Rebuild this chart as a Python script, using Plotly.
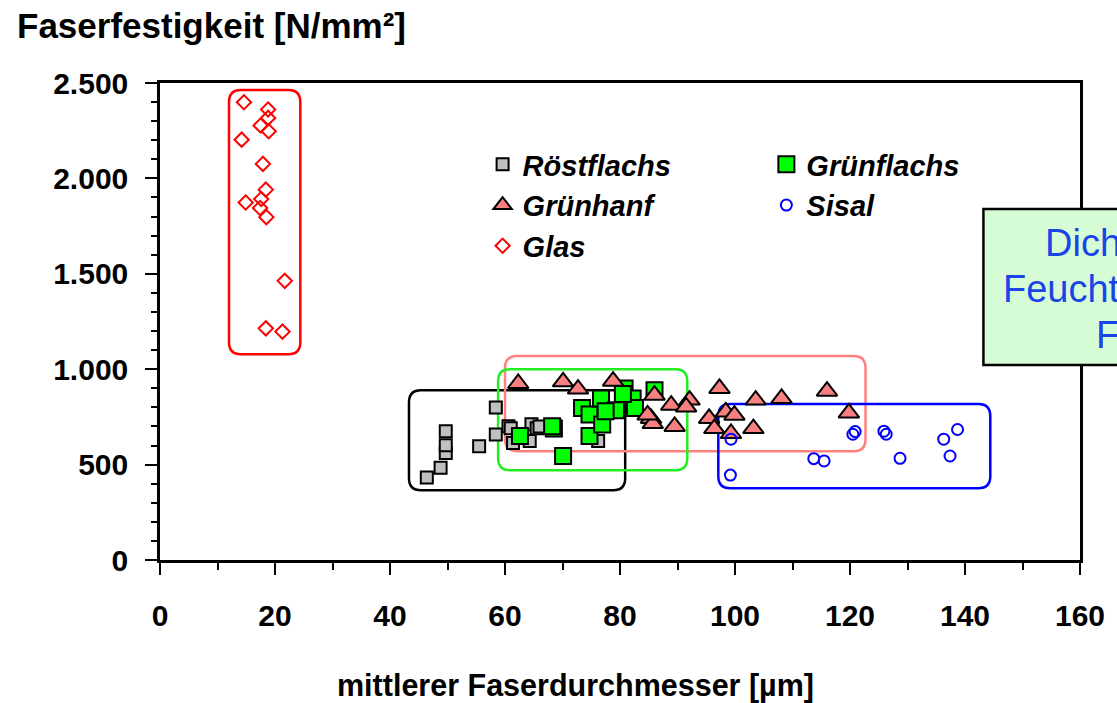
import plotly.graph_objects as go

# ---------------- data ----------------
roest_x = [46.4, 48.8, 49.7, 49.7, 49.7, 55.5, 58.4, 58.4, 60.6, 61.4, 64.6, 64.3, 76.2, 61.0, 65.5, 66.0]
roest_y = [432, 484, 561, 601, 675, 596, 799, 658, 701, 613, 712, 624, 624, 690, 690, 700]

gruenflachs_x = [62.6, 68.5, 68.2, 70.1, 73.4, 74.7, 74.7, 76.7, 76.9, 79.3, 80.8, 82.2, 82.6, 86.0, 80.5, 77.5]
gruenflachs_y = [650, 689, 701, 545, 797, 762, 650, 847, 710, 785, 899, 847, 797, 890, 870, 780]

gruenhanf_x = [62.3, 70.1, 72.7, 78.8, 86.0, 88.9, 85.4, 85.7, 89.5, 92.1, 91.5, 97.3, 95.5,
               96.4, 98.4, 99.9, 99.3, 103.2, 103.6, 108.1, 116.0, 119.8, 84.8]
gruenhanf_y = [925, 934, 896, 937, 864, 811, 742, 715, 700, 838, 802, 899, 742,
               689, 776, 759, 663, 689, 838, 847, 885, 771, 760]

sisal_x = [99.3, 99.2, 120.5, 120.9, 125.9, 126.3, 113.7, 115.5, 128.7, 136.3, 138.7, 137.4]
sisal_y = [633, 445, 659, 673, 675, 659, 531, 519, 533, 633, 684, 545]

glas_x = [14.6, 18.8, 18.8, 17.5, 18.9, 14.2, 17.9, 18.4, 14.9, 17.6, 17.4, 18.5, 21.7, 18.4, 21.3]
glas_y = [2399, 2361, 2317, 2277, 2247, 2203, 2076, 1941, 1874, 1892, 1845, 1797, 1463, 1214, 1197]

x_ticks = [0, 20, 40, 60, 80, 100, 120, 140, 160]
y_ticks = [0, 500, 1000, 1500, 2000, 2500]
y_ticktext = ["0", "500", "1.000", "1.500", "2.000", "2.500"]

# ---------------- layout geometry ----------------
W, H = 1117, 703
ML, MR, MT, MB = 160, 33, 83, 143
PW, PH = W - ML - MR, H - MT - MB
XR, YR = [0, 160], [0, 2500]
sx = PW / (XR[1] - XR[0])
sy = PH / (YR[1] - YR[0])

FONT = "Liberation Sans, Arial, sans-serif"


def px_to_paper_x(px):
    return (px - ML) / PW


def px_to_paper_y(py):
    return (H - MB - py) / PH


def rounded_box(x0, x1, y0, y1, r_px=12):
    rx, ry = r_px / sx, r_px / sy
    return (f"M{x0+rx},{y1} L{x1-rx},{y1} Q{x1},{y1} {x1},{y1-ry} "
            f"L{x1},{y0+ry} Q{x1},{y0} {x1-rx},{y0} L{x0+rx},{y0} "
            f"Q{x0},{y0} {x0},{y0+ry} L{x0},{y1-ry} Q{x0},{y1} {x0+rx},{y1} Z")


fig = go.Figure()

fig.add_trace(go.Scatter(x=roest_x, y=roest_y, mode="markers", name="Röstflachs", legend="legend",
                         marker=dict(symbol="square", size=12, color="#c0c0c0",
                                     line=dict(color="black", width=2))))
fig.add_trace(go.Scatter(x=gruenflachs_x, y=gruenflachs_y, mode="markers", name="Grünflachs", legend="legend2",
                         marker=dict(symbol="square", size=16, color="#00ff00",
                                     line=dict(color="black", width=2))))
fig.add_trace(go.Scatter(x=gruenhanf_x, y=gruenhanf_y, mode="markers", name="Grünhanf", legend="legend",
                         marker=dict(symbol="triangle-up", size=18, color="#f88080",
                                     line=dict(color="black", width=2))))
fig.add_trace(go.Scatter(x=sisal_x, y=sisal_y, mode="markers", name="Sisal", legend="legend2",
                         marker=dict(symbol="circle-open", size=11, color="#0000ff",
                                     line=dict(color="#0000ff", width=2))))
fig.add_trace(go.Scatter(x=glas_x, y=glas_y, mode="markers", name="Glas", legend="legend",
                         marker=dict(symbol="diamond-open", size=11, color="#ff0000",
                                     line=dict(color="#ff0000", width=2))))

shapes = [
    dict(type="path", xref="x", yref="y", path=rounded_box(12.0, 24.4, 1079, 2463),
         line=dict(color="#ff0000", width=2.5), layer="below"),
    dict(type="path", xref="x", yref="y", path=rounded_box(43.3, 80.9, 365, 890),
         line=dict(color="black", width=2.5), layer="below"),
    dict(type="path", xref="x", yref="y", path=rounded_box(60.0, 122.7, 570, 1069),
         line=dict(color="#ff8080", width=2.5), layer="below"),
    dict(type="path", xref="x", yref="y", path=rounded_box(58.8, 91.7, 470, 1000),
         line=dict(color="#22ee22", width=2.5), layer="below"),
    dict(type="path", xref="x", yref="y", path=rounded_box(97.1, 144.4, 376, 817),
         line=dict(color="#0000ff", width=2.5), layer="below"),
    # info box at the right (partly outside the figure)
    dict(type="rect", xref="paper", yref="paper",
         x0=px_to_paper_x(987), x1=px_to_paper_x(1300),
         y0=px_to_paper_y(365), y1=px_to_paper_y(209),
         fillcolor="rgb(214,252,214)", line=dict(color="black", width=2.5), layer="above"),
]

blue = "#1a44e8"
annotations = [
    dict(text="Faserfestigkeit [N/mm²]", xref="paper", yref="paper",
         x=px_to_paper_x(14), y=px_to_paper_y(25), xanchor="left", yanchor="middle",
         showarrow=False, font=dict(family=FONT, size=35, color="black", weight="bold")),
    dict(text="mittlerer Faserdurchmesser [µm]", xref="paper", yref="paper",
         x=px_to_paper_x(577), y=px_to_paper_y(685), xanchor="center", yanchor="middle",
         showarrow=False, font=dict(family=FONT, size=30.5, color="black", weight="bold")),
    dict(text="Dichte und", xref="paper", yref="paper",
         x=px_to_paper_x(1047), y=px_to_paper_y(243), xanchor="left", yanchor="middle",
         showarrow=False, font=dict(family=FONT, size=38, color=blue)),
    dict(text="Feuchtegehalt der", xref="paper", yref="paper",
         x=px_to_paper_x(1005), y=px_to_paper_y(289), xanchor="left", yanchor="middle",
         showarrow=False, font=dict(family=FONT, size=38, color=blue)),
    dict(text="Fasern", xref="paper", yref="paper",
         x=px_to_paper_x(1098), y=px_to_paper_y(335), xanchor="left", yanchor="middle",
         showarrow=False, font=dict(family=FONT, size=38, color=blue)),
]

legend_font = dict(family=FONT, size=29, color="black", weight="bold", style="italic")

fig.update_layout(
    width=W, height=H,
    margin=dict(l=ML, r=MR, t=MT, b=MB),
    paper_bgcolor="white", plot_bgcolor="white",
    shapes=shapes, annotations=annotations,
    legend=dict(x=px_to_paper_x(484), y=px_to_paper_y(139), xanchor="left", yanchor="top",
                bgcolor="rgba(0,0,0,0)", font=legend_font, itemsizing="trace",
                tracegroupgap=0),
    legend2=dict(x=px_to_paper_x(769), y=px_to_paper_y(139), xanchor="left", yanchor="top",
                 bgcolor="rgba(0,0,0,0)", font=legend_font, itemsizing="trace",
                 tracegroupgap=0),
    xaxis=dict(range=XR, tickvals=x_ticks, showgrid=False, zeroline=False,
               showline=True, linecolor="black", linewidth=2.5, mirror=True,
               ticks="outside", ticklen=12, tickwidth=2, tickcolor="black",
               ticklabelstandoff=15,
               minor=dict(dtick=10, ticks="outside", ticklen=7, tickwidth=2, tickcolor="black", showgrid=False),
               tickfont=dict(family=FONT, size=30, color="black", weight="bold")),
    yaxis=dict(range=YR, tickvals=y_ticks, ticktext=y_ticktext, showgrid=False, zeroline=False,
               showline=True, linecolor="black", linewidth=2.5, mirror=True,
               ticks="outside", ticklen=12, tickwidth=2, tickcolor="black",
               ticklabelstandoff=11,
               minor=dict(dtick=100, ticks="outside", ticklen=6, tickwidth=2, tickcolor="black", showgrid=False),
               tickfont=dict(family=FONT, size=30, color="black", weight="bold")),
)

fig.write_html("out.html", config={"displayModeBar": False},
               post_script="document.body.style.margin='0px';document.body.style.overflow='hidden';")
